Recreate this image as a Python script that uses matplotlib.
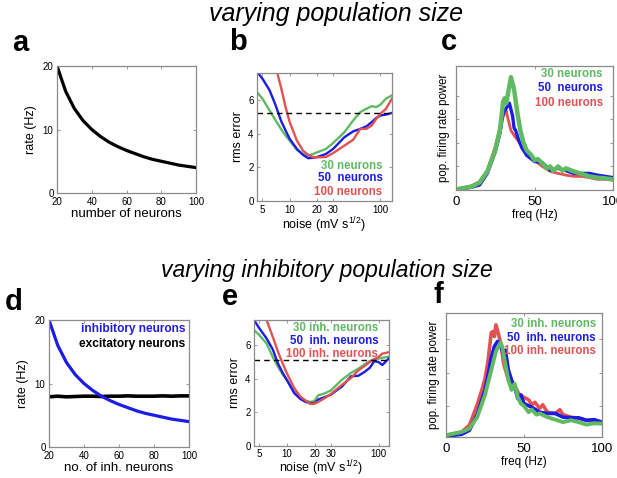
import matplotlib
matplotlib.use("Agg")
import matplotlib.pyplot as plt
import numpy as np

plt.rcParams['font.family'] = ['Liberation Sans', 'DejaVu Sans']
plt.rcParams['mathtext.fontset'] = 'custom'
plt.rcParams['mathtext.rm'] = 'Liberation Sans'
plt.rcParams['mathtext.it'] = 'Liberation Sans:italic'

GREEN = '#5fba62'
BLUE = '#1c1ce6'
RED = '#e25252'
SPINE = '#8a8a8a'

# ---------------- data ----------------
# panel a / d : rate vs number of neurons
n_neurons = [20, 25, 30, 35, 40, 45, 50, 55, 60, 65, 70, 75, 80, 85, 90, 95, 100]
rate_a = [20, 16, 13.3, 11.4, 10, 8.9, 8, 7.3, 6.7, 6.2, 5.7, 5.3, 5, 4.7, 4.4, 4.2, 4.0]
rate_inh = [20, 16, 13.3, 11.4, 10, 8.9, 8, 7.3, 6.7, 6.2, 5.7, 5.3, 5, 4.7, 4.4, 4.2, 4.0]
rate_exc = [7.9, 8.0, 7.9, 7.95, 8.0, 8.0, 7.95, 8.0, 8.0, 8.05, 8.0, 8.0, 8.0, 8.05, 8.0, 8.05, 8.05]

# panel b : rms error vs noise
noise_b = [4.36, 5, 6, 7, 8, 9, 10, 12, 14, 16, 18, 20, 25, 30, 40, 50, 60, 70, 80, 90, 100, 115, 134]
rms_b_30 = [6.5, 6.1, 5.4, 4.8, 4.3, 3.9, 3.6, 3.05, 2.8, 2.72, 2.8, 2.9, 3.1, 3.45, 4.1, 4.8, 5.3, 5.5, 5.65, 5.6, 5.75, 6.1, 6.3]
rms_b_50 = [7.7, 7.3, 6.6, 5.7, 4.8, 4.2, 3.7, 3.1, 2.75, 2.55, 2.58, 2.62, 2.8, 3.1, 3.8, 4.15, 4.3, 4.45, 4.7, 4.95, 5.1, 5.15, 5.25]
rms_b_100 = [10, 10, 9, 8, 6.8, 5.6, 4.7, 3.6, 3.0, 2.75, 2.62, 2.6, 2.62, 2.85, 3.3, 3.65, 4.3, 4.3, 4.5, 4.9, 5.2, 5.5, 6.1]
thresh_b = 5.25

# panel e : rms error vs noise (inh. population)
noise_e = [4.37, 5, 6, 7, 8, 9, 10, 12, 14, 16, 18, 20, 22, 25, 30, 40, 50, 60, 70, 80, 90, 100, 110, 130]
rms_e_30 = [6.9, 6.6, 6.1, 5.3, 4.7, 4.25, 3.92, 3.25, 2.85, 2.7, 2.62, 2.69, 3.03, 3.1, 3.3, 3.95, 4.35, 4.6, 4.85, 5.05, 5.18, 5.2, 5.25, 5.32]
rms_e_50 = [7.5, 7.0, 6.4, 5.75, 4.9, 4.35, 3.92, 3.15, 2.8, 2.62, 2.55, 2.55, 2.77, 2.88, 3.05, 3.55, 4.15, 4.18, 4.4, 4.65, 5.05, 5.0, 4.82, 5.22]
rms_e_100 = [9.5, 9.0, 7.5, 6.5, 5.6, 4.9, 4.32, 3.45, 2.95, 2.7, 2.5, 2.52, 2.63, 2.8, 3.08, 3.65, 4.05, 4.5, 4.75, 5.0, 5.15, 5.3, 5.5, 5.58]
thresh_e = 5.12

# panel c : power spectra
freq_c_30 = [0, 10, 15, 20, 25, 28, 30, 31, 32, 33, 35, 37, 39, 41, 43, 45, 48, 50, 52, 55, 58, 60, 62, 65, 68, 70, 75, 80, 85, 90, 95, 100]
pow_c_30 = [0.005, 0.027, 0.06, 0.15, 0.32, 0.48, 0.71, 0.74, 0.70, 0.77, 0.91, 0.81, 0.63, 0.48, 0.38, 0.32, 0.28, 0.24, 0.25, 0.215, 0.175, 0.19, 0.156, 0.19, 0.156, 0.175, 0.15, 0.13, 0.11, 0.10, 0.094, 0.086]
freq_c_50 = [0, 10, 15, 20, 25, 28, 30, 32, 34, 36, 37, 38, 40, 42, 45, 50, 55, 60, 65, 70, 75, 80, 85, 90, 95, 100]
pow_c_50 = [0.004, 0.022, 0.04, 0.135, 0.31, 0.46, 0.62, 0.66, 0.70, 0.60, 0.50, 0.48, 0.40, 0.34, 0.28, 0.23, 0.22, 0.16, 0.175, 0.156, 0.134, 0.134, 0.134, 0.12, 0.11, 0.10]
freq_c_100 = [0, 10, 15, 20, 25, 28, 30, 31, 32, 33, 35, 37, 40, 45, 50, 55, 60, 65, 70, 75, 80, 85, 90, 95, 100]
pow_c_100 = [0.006, 0.035, 0.067, 0.16, 0.35, 0.51, 0.59, 0.62, 0.64, 0.58, 0.48, 0.44, 0.39, 0.30, 0.24, 0.19, 0.15, 0.134, 0.12, 0.11, 0.11, 0.10, 0.086, 0.086, 0.08]

# panel f : power spectra (inh. population)
freq_f_30 = [0, 10, 15, 20, 25, 28, 30, 32, 34, 35, 36, 38, 40, 42, 44, 46, 48, 50, 53, 55, 58, 60, 65, 70, 75, 80, 85, 90, 95, 100]
pow_f_30 = [0.014, 0.04, 0.068, 0.16, 0.34, 0.49, 0.59, 0.69, 0.74, 0.76, 0.73, 0.59, 0.46, 0.38, 0.43, 0.32, 0.27, 0.25, 0.20, 0.22, 0.18, 0.19, 0.16, 0.14, 0.12, 0.135, 0.12, 0.10, 0.11, 0.108]
freq_f_50 = [0, 10, 15, 20, 25, 27, 29, 31, 33, 35, 37, 38, 40, 42, 44, 46, 48, 50, 55, 60, 65, 70, 75, 80, 85, 90, 95, 100]
pow_f_50 = [0.005, 0.022, 0.054, 0.18, 0.38, 0.50, 0.64, 0.73, 0.77, 0.74, 0.66, 0.70, 0.54, 0.46, 0.405, 0.31, 0.34, 0.27, 0.24, 0.20, 0.19, 0.19, 0.16, 0.155, 0.155, 0.135, 0.14, 0.12]
freq_f_100 = [0, 10, 15, 20, 23, 25, 27, 29, 30, 31, 32, 33, 35, 37, 40, 43, 45, 47, 50, 53, 55, 57, 60, 62, 65, 70, 73, 75, 80, 85, 90, 95, 100]
pow_f_100 = [0.014, 0.04, 0.095, 0.26, 0.38, 0.47, 0.62, 0.84, 0.85, 0.81, 0.905, 0.86, 0.76, 0.59, 0.46, 0.43, 0.39, 0.34, 0.32, 0.30, 0.26, 0.28, 0.23, 0.26, 0.20, 0.19, 0.22, 0.18, 0.16, 0.15, 0.135, 0.127, 0.11]

labels_pop = ['30 neurons', '50  neurons', '100 neurons']
labels_inh = ['30 inh. neurons', '50  inh. neurons', '100 inh. neurons']
labels_d = ['inhibitory neurons', 'excitatory neurons']

# ---------------- figure ----------------
W, H = 617, 478
fig = plt.figure(figsize=(W / 100, H / 100), dpi=100)


def make_ax(l, r, t, b):
    return fig.add_axes([l / W, 1 - b / H, (r - l) / W, (b - t) / H])


def style(ax, tick_fs, xpad=3.0, ypad=2.5):
    for s in ax.spines.values():
        s.set_color(SPINE)
        s.set_linewidth(0.9)
    ax.tick_params(direction='in', length=2.5, width=0.6, color=SPINE,
                   labelsize=tick_fs, top=True, right=True)
    ax.tick_params(axis='x', pad=xpad)
    ax.tick_params(axis='y', pad=ypad)


def texts(ax, x, ys, labels, colors, fs):
    for y, lab, c in zip(ys, labels, colors):
        ax.text(x, y, lab, color=c, fontsize=fs, fontweight='bold',
                ha='right', va='center', transform=ax.transAxes)


cols3 = [GREEN, BLUE, RED]

# a
axa = make_ax(57, 196, 66, 193)
axa.plot(n_neurons, rate_a, color='black', lw=2.3)
axa.set_xlim(20, 100)
axa.set_ylim(0, 20)
axa.set_xticks([20, 40, 60, 80, 100])
axa.set_yticks([0, 10, 20])
style(axa, 7)
axa.set_xlabel('number of neurons', fontsize=9.5, labelpad=0.5)
axa.set_ylabel('rate (Hz)', fontsize=9, labelpad=4)

# b
axb = make_ax(257, 392, 73, 201)
for y, c in zip([rms_b_30, rms_b_50, rms_b_100], cols3):
    axb.plot(noise_b, y, color=c, lw=1.7)
axb.axhline(thresh_b, color='black', ls=(0, (4, 3)), lw=1.0)
axb.set_xscale('log')
axb.set_xlim(4.36, 134)
axb.set_ylim(0, 7.63)
axb.set_xticks([5, 10, 20, 30, 100])
axb.set_xticklabels(['5', '10', '20', '30', '100'])
axb.xaxis.set_minor_locator(matplotlib.ticker.NullLocator())
axb.set_yticks([0, 2, 4, 6])
style(axb, 7)
axb.set_xlabel(r'noise (mV s$^{1/2}$)', fontsize=9, labelpad=0)
axb.set_ylabel('rms error', fontsize=9, labelpad=3)
texts(axb, 0.93, [0.275, 0.18, 0.07], labels_pop, cols3, 8.3)

# c
axc = make_ax(456, 613, 66, 190)
axc.plot(freq_c_100, pow_c_100, color=RED, lw=2.0)
axc.plot(freq_c_50, pow_c_50, color=BLUE, lw=2.4)
axc.plot(freq_c_30, pow_c_30, color=GREEN, lw=3.2)
axc.set_xlim(0, 100)
axc.set_ylim(0, 1)
axc.set_xticks([0, 50, 100])
axc.set_yticks([0.19, 0.38, 0.57, 0.76])
axc.set_yticklabels([])
style(axc, 9.5, xpad=4.0)
axc.set_xlabel('freq (Hz)', fontsize=8.5, labelpad=1)
axc.set_ylabel('pop. firing rate power', fontsize=8.3, labelpad=2)
texts(axc, 0.935, [0.935, 0.82, 0.705], labels_pop, cols3, 8.3)

# d
axd = make_ax(49, 189, 320, 447)
axd.plot(n_neurons, rate_exc, color='black', lw=2.6)
axd.plot(n_neurons, rate_inh, color=BLUE, lw=2.3)
axd.set_xlim(20, 100)
axd.set_ylim(0, 20)
axd.set_xticks([20, 40, 60, 80, 100])
axd.set_yticks([0, 10, 20])
style(axd, 7)
axd.set_xlabel('no. of inh. neurons', fontsize=9.5, labelpad=0.5)
axd.set_ylabel('rate (Hz)', fontsize=9, labelpad=4)
texts(axd, 0.975, [0.93, 0.81], labels_d, [BLUE, 'black'], 8.6)

# e
axe = make_ax(254, 389, 320, 446)
for y, c in zip([rms_e_30, rms_e_50, rms_e_100], cols3):
    axe.plot(noise_e, y, color=c, lw=1.7)
axe.axhline(thresh_e, color='black', ls=(0, (4, 3)), lw=1.0)
axe.set_xscale('log')
axe.set_xlim(4.37, 130)
axe.set_ylim(0, 7.5)
axe.set_xticks([5, 10, 20, 30, 100])
axe.set_xticklabels(['5', '10', '20', '30', '100'])
axe.xaxis.set_minor_locator(matplotlib.ticker.NullLocator())
axe.set_yticks([0, 2, 4, 6])
style(axe, 7, xpad=2.5)
axe.set_xlabel(r'noise (mV s$^{1/2}$)', fontsize=9, labelpad=-1)
axe.set_ylabel('rms error', fontsize=9, labelpad=3)
texts(axe, 0.92, [0.94, 0.835, 0.73], labels_inh, cols3, 8.3)

# f
axf = make_ax(446, 602, 313, 437)
axf.plot(freq_f_100, pow_f_100, color=RED, lw=2.6)
axf.plot(freq_f_50, pow_f_50, color=BLUE, lw=2.6)
axf.plot(freq_f_30, pow_f_30, color=GREEN, lw=2.8)
axf.set_xlim(0, 100)
axf.set_ylim(0, 1)
axf.set_xticks([0, 50, 100])
axf.set_yticks([0.25, 0.52, 0.79])
axf.set_yticklabels([])
style(axf, 9.5, xpad=4.0)
axf.set_xlabel('freq (Hz)', fontsize=8.5, labelpad=1)
axf.set_ylabel('pop. firing rate power', fontsize=8.3, labelpad=2)
texts(axf, 0.96, [0.915, 0.8, 0.69], labels_inh, cols3, 8.3)

# titles and panel letters
fig.text(336 / W, 1 - 14 / H, 'varying population size', fontsize=18,
         style='italic', ha='center', va='center')
fig.text(327 / W, 1 - 270 / H, 'varying inhibitory population size', fontsize=16.5,
         style='italic', ha='center', va='center')
for lab, x, y in [('a', 12, 43), ('b', 229, 42), ('c', 441, 42),
                  ('d', 5, 302), ('e', 222, 297), ('f', 434, 295)]:
    fig.text(x / W, 1 - y / H, lab, fontsize=21, fontweight='bold',
             ha='left', va='center')

fig.savefig('out.png', dpi=100)
